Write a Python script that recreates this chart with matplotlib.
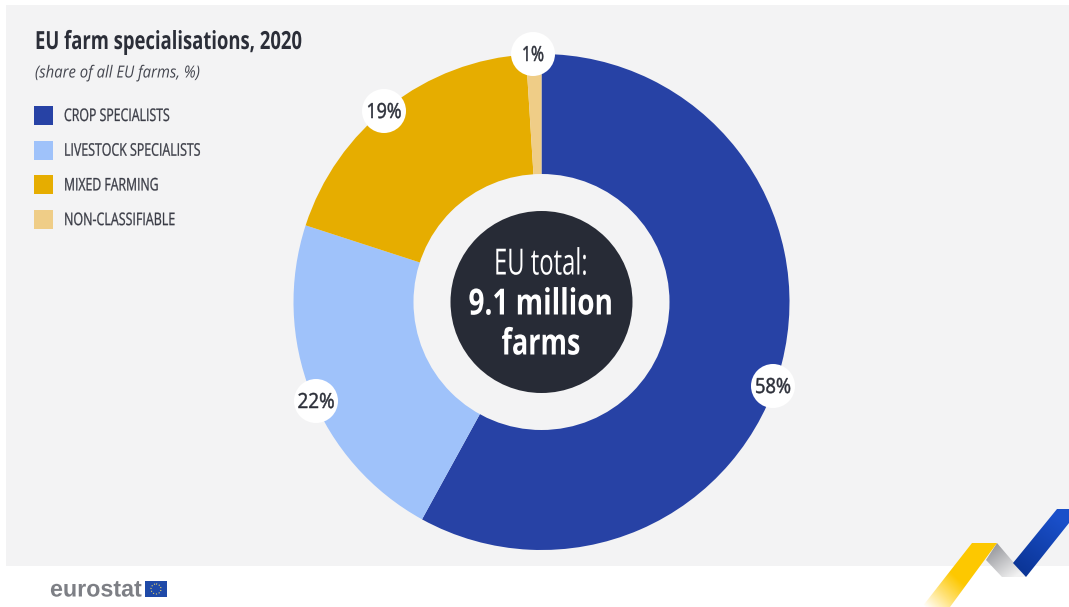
import numpy as np
import matplotlib
matplotlib.use("Agg")
import matplotlib.pyplot as plt
import matplotlib.patheffects as pe
from matplotlib.patches import Circle, Polygon, Rectangle
from matplotlib.colors import LinearSegmentedColormap
from matplotlib.transforms import Affine2D

categories = ["CROP SPECIALISTS", "LIVESTOCK SPECIALISTS", "MIXED FARMING", "NON-CLASSIFIABLE"]
shares = [58, 22, 19, 1]
colors = ["#2742a5", "#9fc2fa", "#e6ad00", "#efcd87"]
bubble_xy = [(773, 386), (316, 401), (384, 111), (533, 54)]
bubble_widths = [36, 37, 35, 22]
legend_widths = [106, 137, 95, 112]

plt.rcParams["font.family"] = ["Open Sans", "Liberation Sans", "DejaVu Sans"]
DARK = "#2b2e38"

W, H = 1069, 607
fig = plt.figure(figsize=(W / 100, H / 100), dpi=100, facecolor="white")
ax = fig.add_axes([0, 0, 1, 1])
ax.set_xlim(0, W)
ax.set_ylim(H, 0)
ax.axis("off")


class Squeeze(pe.AbstractPathEffect):
    # horizontal condensing of the glyph outlines around a fixed pixel column
    def __init__(self, factor, pivot, stroke=0.0):
        super().__init__()
        self.factor = factor
        self.pivot = pivot
        self.stroke = stroke

    def draw_path(self, renderer, gc, tpath, affine, rgbFace=None):
        squeeze = Affine2D().translate(-self.pivot, 0).scale(self.factor, 1).translate(self.pivot, 0)
        if self.stroke:
            gc.set_linewidth(self.stroke)
            gc.set_foreground(rgbFace)
        renderer.draw_path(gc, tpath, affine + squeeze, rgbFace)


def label(x, y, s, width, stroke=0.0, **kw):
    # real text, condensed so that it spans the given number of pixels
    t = ax.text(x, y + 1.5, s, va="center", **kw)
    box = t.get_window_extent(fig.canvas.get_renderer())
    t.set_path_effects([Squeeze(width / box.width, x, stroke)])
    return t


def ribbon(points, stops, start, end):
    # gradient ribbon: an image running from start to end, clipped to the polygon
    poly = Polygon(points, closed=True, fc="none", ec="none", zorder=3)
    ax.add_patch(poly)
    xs, ys = np.meshgrid(np.arange(W), np.arange(H))
    d = np.array(end) - np.array(start)
    t = ((xs - start[0]) * d[0] + (ys - start[1]) * d[1]) / (d @ d)
    cmap = LinearSegmentedColormap.from_list("ribbon", stops)
    im = ax.imshow(np.clip(t, 0, 1), cmap=cmap, vmin=0, vmax=1, extent=(0, W, H, 0),
                   aspect="auto", zorder=3, interpolation="bilinear")
    im.set_clip_path(poly)


ax.add_patch(Rectangle((6, 5), W - 6, 561, fc="#f3f3f4", ec="none", zorder=0))

ribbon([(997, 543), (986, 560), (1002, 577), (1026, 577)],
       ["#98999e", "#f2f2f2"], (990, 548), (1012, 578))
ribbon([(1057, 509), (1069, 509), (1069, 523), (1026, 577), (1013, 563)],
       ["#0b3596", "#1a4fc9"], (1022, 572), (1060, 520))
ribbon([(972, 543), (997, 543), (950, 607), (922, 607)],
       ["#ffffff", "#ffe27a", "#fdc800", "#fdc800"], (930, 612), (975, 565))

# donut, clockwise from twelve o'clock (y axis points down here)
ax.pie(shares, colors=colors, startangle=-90, counterclock=True, radius=248,
       center=(541.5, 302), frame=True, wedgeprops={"linewidth": 0})
ax.set_xlim(0, W)
ax.set_ylim(H, 0)
ax.set_aspect("auto")
ax.axis("off")

ax.add_patch(Circle((541.5, 302), 128, fc="#f3f3f4", ec="none", zorder=2))
ax.add_patch(Circle((541.5, 302), 91, fc="#272b36", ec="none", zorder=2))
label(541, 264, "EU total:", 94, color="white", fontsize=26, ha="center", zorder=4)
label(541, 304, "9.1 million", 145, color="white", fontsize=26, weight="bold", ha="center", zorder=4)
label(541, 344, "farms", 79, color="white", fontsize=26, weight="bold", ha="center", zorder=4)

for (bx, by), share, tw in zip(bubble_xy, shares, bubble_widths):
    ax.add_patch(Circle((bx, by), 22, fc="white", ec="none", zorder=4))
    label(bx, by, f"{share}%", tw, stroke=0.35, color=DARK, fontsize=15, ha="center", zorder=5)

label(35, 41, "EU farm specialisations, 2020", 267, color=DARK, fontsize=18, weight="bold")
label(35, 72, "(share of all EU farms, %)", 165, color="#44464f", fontsize=12, style="italic")

for i, (name, color, tw) in enumerate(zip(categories, colors, legend_widths)):
    y = 115.5 + i * 34.7
    ax.add_patch(Rectangle((34, y - 9.5), 19, 19, fc=color, ec="none", zorder=2))
    label(64, y, name, tw, stroke=0.2, color="#3a3c46", fontsize=12.5)

# publisher mark in the bottom left corner
label(50, 588.5, "eurostat", 92, color="#7d7f85", fontsize=17, weight="bold",
      family=["Liberation Sans", "DejaVu Sans"])
ax.add_patch(Rectangle((145, 581), 22, 16, fc="#1f4aa8", ec="none", zorder=2))
ax.add_patch(Circle((156, 589), 5, fc="none", ec="#e8d26a", lw=0.8, ls=":", zorder=3))

fig.savefig("out.png", dpi=100, facecolor="white")
